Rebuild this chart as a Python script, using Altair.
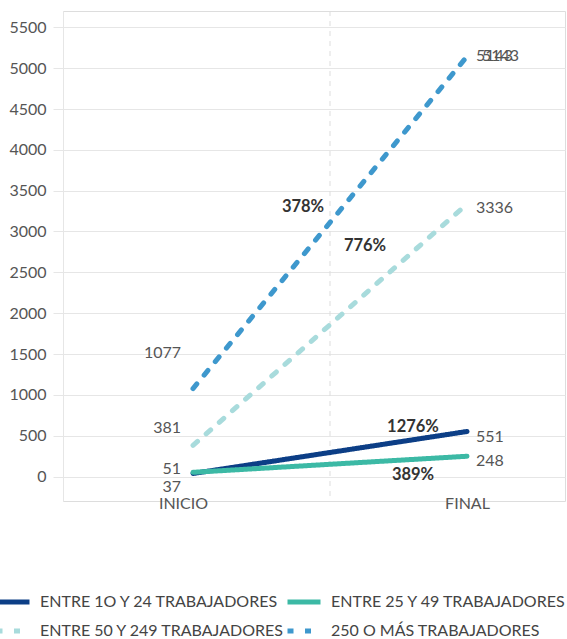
import altair as alt
import pandas as pd

# --- data -------------------------------------------------------------
periodos = ["INICIO", "FINAL"]
series = [
    "ENTRE 1O Y 24 TRABAJADORES",
    "ENTRE 25 Y 49 TRABAJADORES",
    "ENTRE 50 Y 249 TRABAJADORES",
    "250 O MÁS TRABAJADORES",
]
inicio = [37, 51, 381, 1077]
final = [551, 248, 3336, 5143]
variacion = ["1276%", "389%", "776%", "378%"]

# --- style ------------------------------------------------------------
colores = ["#0c3e86", "#3cb9a5", "#a8dbdc", "#3e98cd"]
trazos = [[1, 0], [1, 0], [6, 11.5], [6, 11.5]]
FONT = "Lato"
GRID = "#e6e6e6"
TXT = "#555555"

# pixel offsets of the value labels (start / end of each line)
off_inicio = [(-12, 14), (-12, -3), (-12, -17), (-12, -36)]
off_final = [[(9, 5)], [(9, 5)], [(9, 4)], [(9, 0), (15, 0)]]
# pixel offsets of the change labels, relative to each line's midpoint
off_var = [(83, -25), (83, 11), (35, -79), (-27, -16)]

rows = []
for s, a, b in zip(series, inicio, final):
    rows.append({"serie": s, "t": 0, "periodo": periodos[0], "valor": a})
    rows.append({"serie": s, "t": 1, "periodo": periodos[1], "valor": b})
df = pd.DataFrame(rows)

x_scale = alt.Scale(domain=[-0.4745, 1.3577], nice=False, zero=False)
y_scale = alt.Scale(domain=[-300, 5700], nice=False, zero=False)

x_axis = alt.Axis(
    values=[0, 1],
    labelExpr=f"datum.value == 0 ? '{periodos[0]}' : '{periodos[1]}'",
    grid=False, domain=False, ticks=False, title=None,
    labelFont=FONT, labelFontSize=16, labelColor=TXT, labelPadding=-6,
    labelOffset={"condition": {"test": "datum.value == 0", "value": -10}, "value": 0},
)
y_axis = alt.Axis(
    values=list(range(0, 5501, 500)), title=None, format="d",
    grid=True, gridColor=GRID, tickColor=GRID, tickSize=10,
    domainColor=GRID, labelFont=FONT, labelFontSize=16, labelColor=TXT,
    labelPadding=7,
)

base = alt.Chart(df)

mid = alt.Chart(pd.DataFrame({"t": [sum([0, 1]) / 2]})).mark_rule(
    color="#dddddd", strokeDash=[5, 5], strokeWidth=1
).encode(x=alt.X("t:Q", scale=x_scale, axis=x_axis))

lines = base.mark_line(strokeWidth=5, strokeCap="round").encode(
    x=alt.X("t:Q", scale=x_scale, axis=x_axis),
    y=alt.Y("valor:Q", scale=y_scale, axis=y_axis),
    color=alt.Color(
        "serie:N",
        scale=alt.Scale(domain=series, range=colores),
        legend=alt.Legend(
            title=None, orient="none", legendX=-69, legendY=572,
            direction="horizontal", columns=2, gridAlign="none",
            columnPadding=-8, rowPadding=0,
            symbolType="stroke", symbolSize=1089, symbolStrokeWidth=5,
            labelFont=FONT, labelFontSize=16, labelColor="#444444",
            labelOffset=8, labelLimit=400,
        ),
    ),
    strokeDash=alt.StrokeDash(
        "serie:N",
        scale=alt.Scale(domain=series, range=trazos),
        legend=alt.Legend(title=None),
    ),
    order="t:Q",
)

layers = [mid, lines]
for i, s in enumerate(series):
    sub = df[df.serie == s]
    dx, dy = off_inicio[i]
    layers.append(
        alt.Chart(sub[sub.t == 0]).mark_text(
            align="right", baseline="middle", dx=dx, dy=dy,
            font=FONT, fontSize=16, color=TXT,
        ).encode(x=alt.X("t:Q", scale=x_scale), y=alt.Y("valor:Q", scale=y_scale),
                 text="valor:N")
    )
    for dx, dy in off_final[i]:
        layers.append(
            alt.Chart(sub[sub.t == 1]).mark_text(
                align="left", baseline="middle", dx=dx, dy=dy,
                font=FONT, fontSize=16, color=TXT,
            ).encode(x=alt.X("t:Q", scale=x_scale), y=alt.Y("valor:Q", scale=y_scale),
                     text="valor:N")
        )
    dx, dy = off_var[i]
    layers.append(
        alt.Chart(pd.DataFrame({"t": [0.5], "valor": [(inicio[i] + final[i]) / 2],
                                "txt": [variacion[i]]})).mark_text(
            align="center", baseline="middle", dx=dx, dy=dy,
            font=FONT, fontSize=16.5, fontWeight="bold", color="#333333",
        ).encode(x=alt.X("t:Q", scale=x_scale), y=alt.Y("valor:Q", scale=y_scale),
                 text="txt:N")
    )

chart = alt.layer(*layers).properties(
    width=502, height=490,
    autosize=alt.AutoSizeParams(type="none"),
    padding={"left": 63, "top": 11, "right": 2, "bottom": 138},
).configure_view(stroke=None).configure(background="white")

chart.save("out.html", embed_options={"renderer": "svg", "actions": False})
